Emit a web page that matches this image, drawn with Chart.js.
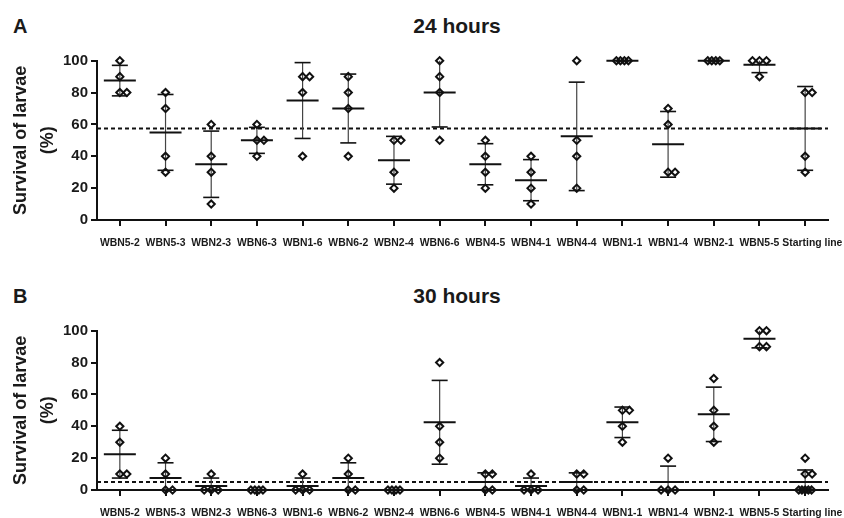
<!DOCTYPE html>
<html><head><meta charset="utf-8">
<script src="https://cdn.jsdelivr.net/npm/chart.js@4"></script>
<style>
html,body{margin:0;padding:0;background:#fff;}
#wrap{position:relative;width:844px;height:518px;overflow:hidden;font-family:'Liberation Sans',Arial,sans-serif;color:#1a1a1a;}
.lbl{position:absolute;font-weight:bold;font-size:20px;line-height:20px;}
.ttl{position:absolute;font-weight:bold;font-size:21px;line-height:21px;transform:translateX(-50%);white-space:nowrap;}
#c1{position:absolute;left:0;top:0;}
#c2{position:absolute;left:0;top:270px;}
</style></head><body>
<div id="wrap">
<div class="lbl" style="left:13px;top:16px">A</div>
<div class="ttl" style="left:457px;top:15px">24 hours</div>
<div class="lbl" style="left:13px;top:286px">B</div>
<div class="ttl" style="left:457px;top:285px">30 hours</div>
<canvas id="c1" width="844" height="270"></canvas>
<canvas id="c2" width="844" height="248"></canvas>
</div>
<script>
// ---- data ----
const categories = ['WBN5-2','WBN5-3','WBN2-3','WBN6-3','WBN1-6','WBN6-2','WBN2-4','WBN6-6',
  'WBN4-5','WBN4-1','WBN4-4','WBN1-1','WBN1-4','WBN2-1','WBN5-5','Starting line'];
const yTicks = [0,20,40,60,80,100];
const survival24h = [
  [100,90,80,80],[80,70,40,30],[60,40,30,10],[60,50,50,40],[90,90,80,40],[90,80,70,40],
  [50,50,30,20],[100,90,80,50],[50,40,30,20],[40,30,20,10],[100,50,40,20],[100,100,100,100],
  [70,60,30,30],[100,100,100,100],[100,100,100,90],[80,80,40,30]
];
const survival30h = [
  [40,30,10,10],[20,10,0,0],[10,0,0,0],[0,0,0,0],[10,0,0,0],[20,10,0,0],
  [0,0,0,0],[80,40,30,20],[10,10,0,0],[10,0,0,0],[10,10,0,0],[50,50,40,30],
  [20,0,0,0],[70,50,40,30],[100,100,90,90],[20,10,10,0,0,0,0,0]
];

// ---- helpers ----
const mean = a => a.reduce((s,v)=>s+v,0)/a.length;
const sd = a => { const m = mean(a); return Math.sqrt(a.reduce((s,v)=>s+(v-m)*(v-m),0)/(a.length-1)); };
const PX_PER_CAT = 731/16;

function scatterPoints(groups){
  const pts = [];
  groups.forEach((vals,i)=>{
    const counts = {};
    vals.forEach(v=>{counts[v]=(counts[v]||0)+1;});
    const seen = {};
    vals.forEach(v=>{
      const n = counts[v]; const k = seen[v]||0; seen[v]=k+1;
      let off = 0;
      if (n===2) off = k*7;
      else if (n===3) off = (k-1)*7;
      else if (n===4) off = (k-1.5)*4;
      else if (n>4) off = (k-(n-1)/2)*3.2;
      pts.push({x: i + off/PX_PER_CAT, y: v});
    });
  });
  return pts;
}

const errPlugin = {
  id:'errbars',
  beforeDatasetsDraw(chart, args, opts){
    const {ctx, chartArea} = chart;
    const xs = chart.scales.x, ys = chart.scales.y;
    const groups = opts.groups;
    const Y = v => ys.getPixelForValue(v);
    const seg = (x1,y1,x2,y2) => {ctx.beginPath();ctx.moveTo(x1,y1);ctx.lineTo(x2,y2);ctx.stroke();};
    ctx.save();
    // reference dashed line = starting-line mean
    const ref = mean(groups[groups.length-1]);
    ctx.setLineDash([4,3]); ctx.lineWidth = 2; ctx.strokeStyle = '#111';
    seg(chartArea.left, Y(ref), chartArea.right, Y(ref));
    ctx.setLineDash([]);
    groups.forEach((vals,i)=>{
      const m = mean(vals), s = sd(vals);
      const cx = xs.getPixelForValue(i);
      const hi = m+s, lo = m-s;
      if (s > 0){
        ctx.lineWidth = 1.2; ctx.strokeStyle = '#444';
        seg(cx, Y(Math.min(hi,100)), cx, Y(Math.max(lo,0)));
        ctx.lineWidth = 1.6; ctx.strokeStyle = '#111';
        if (hi <= 100.01) seg(cx-8, Y(hi), cx+8, Y(hi));
        if (lo >= -0.01) seg(cx-8, Y(lo), cx+8, Y(lo));
      }
      ctx.lineWidth = 2; ctx.strokeStyle = '#111';
      seg(cx-16, Y(m), cx+16, Y(m));
    });
    ctx.restore();
  }
};

function makeChart(id, groups, xHeight){
  return new Chart(document.getElementById(id), {
    type:'scatter',
    data:{datasets:[{
      data: scatterPoints(groups),
      pointStyle:'rectRot', pointRadius:3.6, pointBorderWidth:2,
      borderColor:'#111', backgroundColor:'rgba(255,255,255,0)',
      pointBackgroundColor:'rgba(255,255,255,0)', pointBorderColor:'#111',
      clip:false
    }]},
    options:{
      responsive:false, animation:false,
      layout:{padding:{top:60.7,right:16,bottom:0,left:0}},
      plugins:{legend:{display:false}, tooltip:{enabled:false}, errbars:{groups}},
      scales:{
        x:{
          type:'linear', min:-0.5, max:categories.length-0.5,
          afterBuildTicks: s => { s.ticks = categories.map((c,i)=>({value:i})); },
          afterFit: s => { s.height = xHeight; s.paddingLeft = 0; s.paddingRight = 0; },
          grid:{drawOnChartArea:false, drawTicks:true, tickLength:6, lineWidth:2, color:'#111'},
          border:{display:true, color:'#111', width:2},
          ticks:{autoSkip:false, maxRotation:0, padding:11, color:'#1a1a1a',
            font:{family:"'Liberation Sans', Arial, sans-serif", size:10.4, weight:'bold'},
            callback: v => (v === categories.length-1 ? '\u00A0'.repeat(5) : '') + categories[v]}
        },
        y:{
          min:0, max:100,
          afterBuildTicks: s => { s.ticks = yTicks.map(v=>({value:v})); },
          afterFit: s => { s.width = 97; s.paddingTop = 0; s.paddingBottom = 0; },
          grid:{drawOnChartArea:false, drawTicks:true, tickLength:6, lineWidth:2, color:'#111'},
          border:{display:true, color:'#111', width:2},
          ticks:{padding:3, color:'#1a1a1a',
            font:{family:"'Liberation Sans', Arial, sans-serif", size:15, weight:'bold'}},
          title:{display:true, text:['Survival of larvae','(%)'], color:'#1a1a1a',
            padding:{top:7.5,bottom:0},
            font:{family:"'Liberation Sans', Arial, sans-serif", size:18, weight:'bold', lineHeight:1.5}}
        }
      }
    },
    plugins:[errPlugin]
  });
}

makeChart('c1', survival24h, 50);
makeChart('c2', survival30h, 28);
</script>
</body></html>
